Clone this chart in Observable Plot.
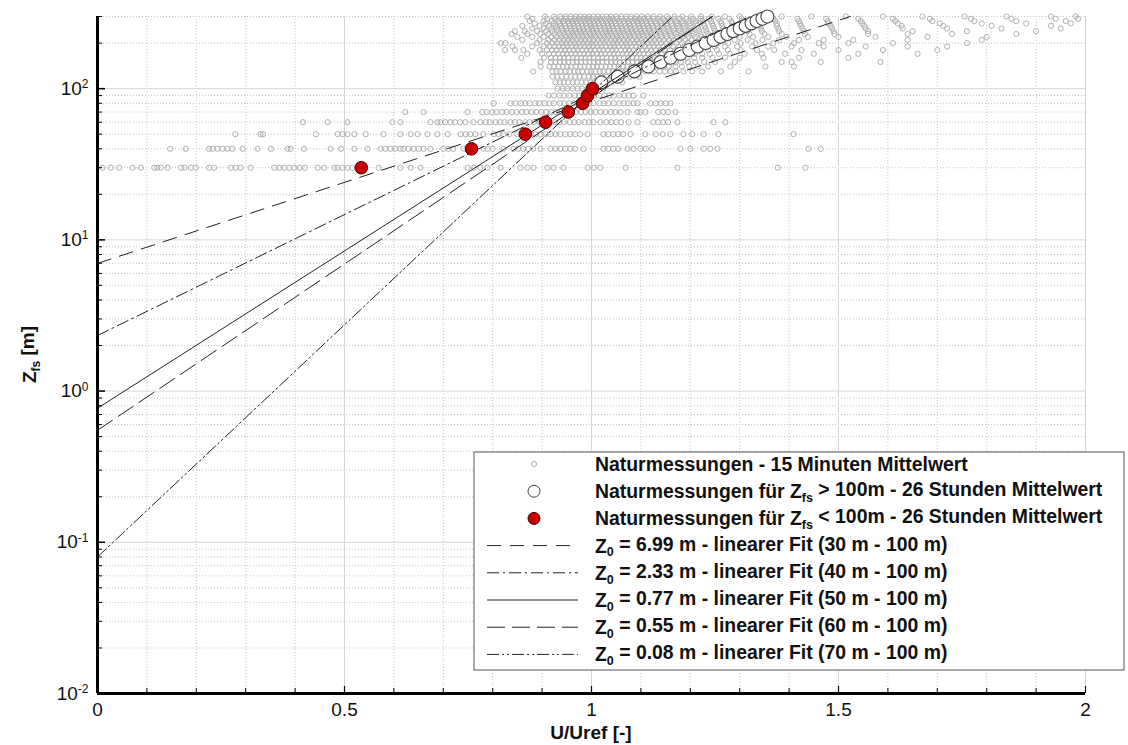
<!DOCTYPE html>
<html><head><meta charset="utf-8">
<script src="https://cdn.jsdelivr.net/npm/d3@7"></script>
<script src="https://cdn.jsdelivr.net/npm/@observablehq/plot@0.6"></script>
<style>
body{margin:0;background:#fff;}
#chart{position:relative;width:1128px;height:745px;}
</style></head><body><div id="chart"></div>
<script>
// ---------- data: 15-minute means, U/Uref values per measuring height ----------
const x30 = [0.010,0.027,0.044,0.071,0.088,0.115,0.121,0.128,0.142,0.169,0.176,0.189,0.199,0.226,0.236,0.270,0.280,0.290,0.310,0.358,0.368,0.378,0.388,0.398,0.409,0.420,0.446,0.459,0.480,0.486,0.496,0.506,0.516,0.569,0.613,0.634,0.654,0.749,0.762,0.775,0.789,0.816,0.856,0.870,0.883,0.911,0.923,0.943,0.992,1.005,1.018,1.069,1.174,1.377,1.433];
const x40 = [0.147,0.179,0.226,0.233,0.243,0.253,0.263,0.273,0.294,0.324,0.351,0.385,0.391,0.418,0.472,0.493,0.520,0.547,0.573,0.583,0.593,0.603,0.613,0.619,0.629,0.640,0.650,0.660,0.674,0.700,0.710,0.720,0.741,0.781,0.790,0.800,0.822,0.842,0.852,0.862,0.872,0.882,0.897,0.917,0.927,0.937,0.947,0.957,0.967,0.984,1.024,1.034,1.044,1.054,1.073,1.085,1.099,1.110,1.123,1.180,1.200,1.227,1.240,1.255,1.439,1.464];
const x50 = [0.279,0.330,0.335,0.442,0.486,0.496,0.506,0.520,0.543,0.579,0.613,0.634,0.648,0.668,0.688,0.709,0.735,0.745,0.755,0.765,0.781,0.802,0.812,0.822,0.834,0.850,0.877,0.887,0.897,0.907,0.917,0.927,0.937,0.947,0.957,0.967,0.977,0.992,1.024,1.034,1.044,1.054,1.064,1.079,1.109,1.130,1.144,1.160,1.186,1.204,1.227,1.257,1.409];
const x60 = [0.416,0.466,0.506,0.597,0.613,0.674,0.688,0.694,0.704,0.714,0.724,0.734,0.745,0.761,0.775,0.786,0.794,0.806,0.815,0.824,0.836,0.845,0.854,0.866,0.875,0.884,0.896,0.905,0.914,0.926,0.935,0.944,0.956,0.965,0.974,0.986,0.995,1.004,1.018,1.030,1.040,1.050,1.060,1.075,1.093,1.125,1.135,1.145,1.155,1.174,1.247,1.271];
const x70 = [0.623,0.660,0.749,0.779,0.788,0.799,0.808,0.819,0.828,0.839,0.848,0.859,0.868,0.879,0.888,0.899,0.908,0.919,0.928,0.939,0.948,0.959,0.968,0.979,0.988,0.999,1.008,1.019,1.028,1.039,1.048,1.059,1.073,1.093,1.099,1.109,1.135,1.145,1.155,1.170];
const x80 = [0.802,0.836,0.846,0.857,0.866,0.875,0.886,0.894,0.905,0.915,0.924,0.936,0.945,0.955,0.964,0.975,0.986,0.995,1.004,1.016,1.025,1.034,1.045,1.056,1.065,1.074,1.085,1.093,1.119,1.130,1.140,1.150,1.160];
const x90 = [0.913,0.924,0.935,0.944,0.955,0.966,0.975,0.984,0.996,1.006,1.015,1.026,1.036,1.045,1.056,1.066,1.075,1.085,1.105];
const x100 = [0.931,0.942,0.951,0.962,0.972,0.981,0.992,1.001,1.012,1.024];
const x110 = [0.927,0.936,0.944,0.953,0.962,0.971,0.980,0.989,0.998,1.007,1.016,1.040,1.062];
const x120 = [0.921,0.931,0.940,0.949,0.958,0.967,0.976,0.985,0.994,1.003,1.012,1.021,1.030,1.041,1.052,1.063,1.078,1.097];
const x130 = [0.882,0.921,0.929,0.937,0.948,0.955,0.966,0.973,0.981,0.992,0.999,1.008,1.017,1.024,1.035,1.043,1.051,1.062,1.069,1.080,1.088,1.097,1.109,1.118,1.126,1.138,1.149,1.160,1.171,1.186,1.204,1.224,1.262,1.318];
const x140 = [0.897,0.915,0.924,0.933,0.942,0.951,0.958,0.969,0.977,0.986,0.994,1.003,1.011,1.020,1.029,1.037,1.046,1.055,1.064,1.072,1.081,1.090,1.099,1.108,1.117,1.126,1.136,1.146,1.157,1.170,1.183,1.198,1.215,1.236,1.281,1.352,1.410];
const x150 = [0.897,0.918,0.927,0.936,0.945,0.953,0.962,0.970,0.979,0.988,0.996,1.005,1.013,1.022,1.031,1.040,1.048,1.057,1.066,1.074,1.083,1.092,1.101,1.110,1.119,1.128,1.138,1.148,1.158,1.169,1.181,1.195,1.210,1.228,1.250,1.290,1.385,1.405,1.464,1.585];
const x160 = [0.858,0.904,0.918,0.927,0.936,0.944,0.953,0.962,0.970,0.979,0.987,0.996,1.004,1.013,1.022,1.030,1.039,1.048,1.056,1.065,1.074,1.083,1.091,1.100,1.109,1.118,1.128,1.137,1.147,1.157,1.168,1.180,1.193,1.208,1.224,1.245,1.270,1.300,1.348,1.420,1.520];
const x170 = [0.870,0.900,0.914,0.924,0.933,0.942,0.950,0.959,0.968,0.976,0.985,0.993,1.002,1.011,1.019,1.028,1.037,1.045,1.054,1.063,1.071,1.080,1.089,1.097,1.106,1.115,1.124,1.133,1.142,1.152,1.162,1.173,1.184,1.196,1.209,1.224,1.240,1.258,1.280,1.310,1.345,1.392,1.450,1.540,1.660];
const x180 = [0.825,0.845,0.862,0.895,0.910,0.920,0.929,0.938,0.947,0.955,0.964,0.972,0.981,0.990,0.998,1.007,1.016,1.024,1.033,1.042,1.050,1.059,1.068,1.076,1.085,1.094,1.103,1.112,1.121,1.130,1.139,1.149,1.159,1.170,1.181,1.193,1.206,1.220,1.236,1.254,1.276,1.302,1.335,1.370,1.425,1.500,1.590,1.700];
const x190 = [0.840,0.880,0.903,0.915,0.925,0.934,0.943,0.951,0.960,0.969,0.977,0.986,0.994,1.003,1.012,1.020,1.029,1.038,1.046,1.055,1.064,1.072,1.081,1.090,1.099,1.108,1.117,1.126,1.135,1.145,1.155,1.165,1.176,1.188,1.201,1.215,1.231,1.249,1.270,1.295,1.325,1.358,1.405,1.470,1.555,1.640,1.720];
const x200 = [0.816,0.826,0.890,0.910,0.921,0.931,0.940,0.949,0.957,0.966,0.974,0.983,0.992,1.000,1.009,1.018,1.026,1.035,1.044,1.052,1.061,1.070,1.078,1.087,1.096,1.105,1.114,1.123,1.132,1.141,1.151,1.161,1.172,1.183,1.195,1.208,1.222,1.238,1.256,1.277,1.302,1.332,1.368,1.410,1.460,1.520,1.610,1.760];
const x210 = [0.860,0.895,0.913,0.925,0.935,0.944,0.953,0.961,0.970,0.979,0.987,0.996,1.004,1.013,1.022,1.030,1.039,1.048,1.056,1.065,1.074,1.083,1.092,1.101,1.110,1.119,1.128,1.137,1.147,1.157,1.167,1.178,1.190,1.203,1.217,1.232,1.249,1.268,1.290,1.316,1.346,1.380,1.420,1.470,1.530,1.640,1.790];
const x220 = [0.850,0.880,0.903,0.918,0.929,0.939,0.948,0.957,0.965,0.974,0.982,0.991,1.000,1.008,1.017,1.026,1.034,1.043,1.052,1.060,1.069,1.078,1.087,1.096,1.105,1.114,1.123,1.132,1.142,1.152,1.162,1.173,1.184,1.196,1.209,1.223,1.239,1.257,1.277,1.300,1.327,1.358,1.395,1.438,1.500,1.575,1.680,1.800];
const x230 = [0.838,0.870,0.896,0.913,0.925,0.936,0.945,0.954,0.963,0.971,0.980,0.988,0.997,1.006,1.014,1.023,1.032,1.040,1.049,1.058,1.067,1.076,1.085,1.094,1.103,1.112,1.121,1.130,1.140,1.150,1.160,1.171,1.182,1.194,1.207,1.221,1.236,1.253,1.272,1.294,1.320,1.350,1.385,1.432,1.492,1.560,1.640,1.730,1.860];
const x240 = [0.845,0.865,0.890,0.908,0.921,0.932,0.942,0.951,0.960,0.968,0.977,0.985,0.994,1.003,1.011,1.020,1.029,1.037,1.046,1.055,1.064,1.073,1.082,1.091,1.100,1.109,1.118,1.127,1.137,1.147,1.157,1.168,1.179,1.191,1.204,1.218,1.233,1.250,1.269,1.291,1.316,1.345,1.380,1.430,1.490,1.560,1.650,1.760,1.900];
const x250 = [0.880,0.903,0.918,0.930,0.940,0.949,0.958,0.966,0.975,0.983,0.992,1.001,1.009,1.018,1.027,1.035,1.044,1.053,1.062,1.071,1.080,1.089,1.098,1.107,1.116,1.125,1.135,1.145,1.155,1.166,1.177,1.189,1.202,1.216,1.231,1.248,1.267,1.289,1.314,1.343,1.378,1.427,1.487,1.555,1.630,1.720,1.830,1.950];
const x260 = [0.860,0.895,0.914,0.927,0.938,0.947,0.956,0.965,0.973,0.982,0.990,0.999,1.008,1.016,1.025,1.034,1.042,1.051,1.060,1.069,1.078,1.087,1.096,1.105,1.114,1.123,1.133,1.143,1.153,1.164,1.175,1.187,1.200,1.214,1.229,1.246,1.265,1.287,1.312,1.341,1.375,1.424,1.484,1.552,1.628,1.712,1.810,1.930];
const x270 = [0.885,0.908,0.923,0.935,0.945,0.954,0.963,0.971,0.980,0.988,0.997,1.006,1.014,1.023,1.032,1.040,1.049,1.058,1.067,1.076,1.085,1.094,1.103,1.112,1.121,1.131,1.141,1.151,1.162,1.173,1.185,1.198,1.212,1.227,1.244,1.263,1.285,1.310,1.340,1.375,1.422,1.480,1.548,1.620,1.705,1.790,1.880,1.970];
const x280 = [0.875,0.903,0.920,0.933,0.943,0.952,0.961,0.969,0.978,0.986,0.995,1.004,1.012,1.021,1.030,1.038,1.047,1.056,1.065,1.074,1.083,1.092,1.101,1.110,1.119,1.129,1.139,1.149,1.160,1.171,1.183,1.196,1.210,1.225,1.242,1.261,1.283,1.308,1.338,1.372,1.420,1.478,1.545,1.615,1.690,1.775,1.860,1.960];
const x290 = [0.880,0.910,0.926,0.938,0.948,0.957,0.966,0.974,0.983,0.991,1.000,1.009,1.017,1.026,1.035,1.043,1.052,1.061,1.070,1.079,1.088,1.097,1.106,1.115,1.125,1.135,1.145,1.156,1.167,1.179,1.192,1.206,1.221,1.238,1.257,1.279,1.304,1.334,1.368,1.417,1.475,1.540,1.610,1.685,1.768,1.850,1.940,1.985];
const x300 = [0.870,0.906,0.924,0.937,0.948,0.958,0.968,0.977,0.986,0.995,1.004,1.013,1.022,1.031,1.040,1.050,1.060,1.070,1.080,1.091,1.102,1.114,1.126,1.139,1.153,1.168,1.184,1.202,1.222,1.244,1.270,1.300,1.335,1.385,1.445,1.515,1.590,1.670,1.755,1.840,1.930,1.980];
const scatterRows = [[30,x30],[40,x40],[50,x50],[60,x60],[70,x70],[80,x80],[90,x90],[100,x100],[110,x110],[120,x120],[130,x130],[140,x140],[150,x150],[160,x160],[170,x170],[180,x180],[190,x190],[200,x200],[210,x210],[220,x220],[230,x230],[240,x240],[250,x250],[260,x260],[270,x270],[280,x280],[290,x290],[300,x300]];

// 26-hour means above 100 m
const highZ = [110,120,130,140,150,160,170,180,190,200,210,220,230,240,250,260,270,280,290,300];
const highX = [1.020,1.053,1.087,1.115,1.140,1.160,1.180,1.198,1.215,1.231,1.247,1.261,1.275,1.287,1.300,1.312,1.324,1.334,1.346,1.356];
// 26-hour means below 100 m
const lowZ = [30,40,50,60,70,80,90,100];
const lowX = [0.534,0.757,0.866,0.907,0.953,0.982,0.992,1.002];

// linear fits (start at U/Uref = 0 with z = Z0, end at top of the axis)
const fitZ0 = [6.99, 2.33, 0.77, 0.55, 0.08];
const fitEndX = [1.524, 1.319, 1.245, 1.244, 1.164];
const fitEndZ = [300, 300, 300, 300, 300];
const fitRange = ["30 m - 100 m", "40 m - 100 m", "50 m - 100 m", "60 m - 100 m", "70 m - 100 m"];

// axis ticks
const xMajor = [0, 0.5, 1, 1.5, 2];
const xMinor = [0.1,0.2,0.3,0.4,0.6,0.7,0.8,0.9,1.1,1.2,1.3,1.4,1.6,1.7,1.8,1.9];
const yDecades = [0.01, 0.1, 1, 10, 100];
const yMinor = [0.02,0.03,0.04,0.05,0.06,0.07,0.08,0.09,0.2,0.3,0.4,0.5,0.6,0.7,0.8,0.9,2,3,4,5,6,7,8,9,20,30,40,50,60,70,80,90,200,300];

// ---------- layout / style ----------
const W = 1128, H = 745, ML = 97, MR = 43, MT = 16, MB = 52;
const xDomain = [0, 2], yDomain = [0.01, 300];
const lineDash = ["14,9", "12,4,2,4", null, "18,7", "12,3,2,3,2,3"];
const pxX = (xDomain[1]-xDomain[0]) / (W-ML-MR);
const pxLogY = (Math.log10(yDomain[1]) - Math.log10(yDomain[0])) / (H-MT-MB);
const tx = len => xDomain[0] + len*pxX;
const ty = len => yDomain[0] * Math.pow(10, len*pxLogY);

const scatter = scatterRows.flatMap(([z, xs]) => xs.map(x => ({x, z})));
const high = highZ.map((z,i) => ({x: highX[i], z}));
const low = lowZ.map((z,i) => ({x: lowX[i], z}));
const fits = fitZ0.map((z0,i) => [{x: 0, z: z0, i}, {x: fitEndX[i], z: fitEndZ[i], i}]);

const ink = "#222";
const marks = [
  Plot.ruleY(yMinor, {stroke: "#c4c4c4", strokeDasharray: "1,2"}),
  Plot.ruleX(xMinor, {stroke: "#c4c4c4", strokeDasharray: "1,2"}),
  Plot.ruleY(yDecades.slice(1), {stroke: "#d6d6d6"}),
  Plot.ruleX(xMajor.slice(1), {stroke: "#d6d6d6"}),
  Plot.dot(scatter, {x: "x", y: "z", r: 2.6, stroke: "#b0b0b0", strokeWidth: 1, fill: "none"}),
  Plot.dot(high, {x: "x", y: "z", r: 6.5, stroke: "#444", strokeWidth: 1.1, fill: "white"}),
  ...fits.map((seg, i) => Plot.line(seg, {x: "x", y: "z", stroke: ink, strokeWidth: 1, strokeDasharray: lineDash[i]})),
  Plot.dot(low, {x: "x", y: "z", r: 6.3, fill: "#c80000", stroke: "#4a0000", strokeWidth: 1}),
  // inward ticks
  Plot.ruleY(yDecades, {y: d => d, x1: xDomain[0], x2: tx(8), stroke: "black", strokeWidth: 1.5}),
  Plot.ruleY(yMinor, {y: d => d, x1: xDomain[0], x2: tx(5), stroke: "black", strokeWidth: 1}),
  Plot.ruleX(xMajor, {x: d => d, y1: yDomain[0], y2: ty(7), stroke: "black", strokeWidth: 1.2}),
  Plot.ruleX(xMinor, {x: d => d, y1: yDomain[0], y2: ty(5), stroke: "black", strokeWidth: 1}),
  // axis lines
  Plot.ruleX([xDomain[0]], {stroke: "black", strokeWidth: 3}),
  Plot.ruleY([yDomain[0]], {stroke: "black", strokeWidth: 3}),
  Plot.axisX(xMajor, {tickSize: 0, tickPadding: 9, label: null, tickFormat: d => String(d), fill: "#111"}),
  Plot.axisY(yDecades, {tickSize: 0, tickPadding: 9, label: null, tickFormat: d => String(Math.round(Math.log10(d))), fill: "#111"})
];

const svg = Plot.plot({
  width: W, height: H,
  marginLeft: ML, marginRight: MR, marginTop: MT, marginBottom: MB,
  x: {domain: xDomain},
  y: {type: "log", domain: yDomain},
  style: {fontFamily: "'Liberation Sans', Arial, sans-serif", fontSize: "19px", background: "white", color: "#111", overflow: "visible"},
  marks
});
document.getElementById("chart").appendChild(svg);

const s = d3.select(svg);
// y tick labels as 10^n
s.selectAll('g[aria-label="y-axis tick label"] text').each(function() {
  const e = this.textContent;
  const t = d3.select(this);
  t.text("");
  t.append("tspan").text("10");
  t.append("tspan").attr("dy", "-0.55em").attr("font-size", "12px").text(e);
});

// axis titles
const fontB = "'Liberation Sans', Arial, sans-serif";
s.append("text").attr("x", (ML + W - MR) / 2).attr("y", 739)
  .attr("text-anchor", "middle").attr("font-weight", "bold").attr("font-size", "19px")
  .attr("font-family", fontB).attr("fill", "#111").text("U/Uref [-]");
const yl = s.append("text").attr("transform", `translate(36,${(MT + H - MB) / 2}) rotate(-90)`)
  .attr("text-anchor", "middle").attr("font-weight", "bold").attr("font-size", "19px")
  .attr("font-family", fontB).attr("fill", "#111");
yl.append("tspan").text("Z");
yl.append("tspan").attr("dy", "0.3em").attr("font-size", "12px").text("fs");
yl.append("tspan").attr("dy", "-0.3em").text(" [m]");

// legend
const L = {x: 474, y: 452, w: 650, h: 218, sx0: 487, sx1: 578, sc: 534, tx: 595, y0: 464, dy: 27.2};
const lg = s.append("g").attr("font-family", fontB).attr("font-weight", "bold").attr("font-size", "19.4px")
  .attr("fill", "#111").attr("text-anchor", "start");
lg.append("rect").attr("x", L.x).attr("y", L.y).attr("width", L.w).attr("height", L.h)
  .attr("fill", "white").attr("stroke", "#555").attr("stroke-width", 1);
function row(i) { return L.y0 + i * L.dy; }
function label(i, parts) {
  const t = lg.append("text").attr("x", L.tx).attr("y", row(i)).attr("dy", "0.36em").attr("text-anchor", "start");
  parts.forEach(p => {
    if (typeof p === "string") t.append("tspan").text(p);
    else {
      t.append("tspan").attr("dy", "0.3em").attr("font-size", "12.5px").text(p.sub);
      t.append("tspan").attr("dy", "-0.3em").text(p.after);
    }
  });
}
lg.append("circle").attr("cx", L.sc).attr("cy", row(0)).attr("r", 2.6).attr("fill", "none").attr("stroke", "#b0b0b0");
label(0, ["Naturmessungen - 15 Minuten Mittelwert"]);
lg.append("circle").attr("cx", L.sc).attr("cy", row(1)).attr("r", 6).attr("fill", "white").attr("stroke", "#444");
label(1, ["Naturmessungen für Z", {sub: "fs", after: " > 100m - 26 Stunden Mittelwert"}]);
lg.append("circle").attr("cx", L.sc).attr("cy", row(2)).attr("r", 6).attr("fill", "#c80000").attr("stroke", "#4a0000");
label(2, ["Naturmessungen für Z", {sub: "fs", after: " < 100m - 26 Stunden Mittelwert"}]);
fitZ0.forEach((z0, i) => {
  lg.append("line").attr("x1", L.sx0).attr("x2", L.sx1).attr("y1", row(3 + i)).attr("y2", row(3 + i))
    .attr("stroke", ink).attr("stroke-width", 1).attr("stroke-dasharray", lineDash[i]);
  label(3 + i, ["Z", {sub: "0", after: ` = ${z0.toFixed(2)} m - linearer Fit (${fitRange[i]})`}]);
});
</script></body></html>
